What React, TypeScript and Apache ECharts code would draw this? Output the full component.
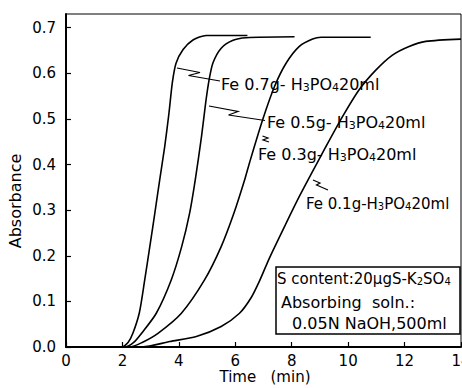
import React, { useEffect, useRef } from "react";
import * as echarts from "echarts";

// Time (min) / Absorbance pairs
const fe07: [number, number][] = [
  [0, 0], [1.95, 0], [2.2, 0.01], [2.37, 0.03], [2.6, 0.075], [2.79, 0.147], [2.97, 0.22],
  [3.15, 0.294], [3.32, 0.366], [3.5, 0.44], [3.65, 0.513], [3.77, 0.58], [3.9, 0.622],
  [4.15, 0.652], [4.5, 0.673], [4.97, 0.683], [6.43, 0.683],
];
const fe05: [number, number][] = [
  [0, 0], [2.1, 0], [2.4, 0.01], [2.68, 0.03], [3.2, 0.074], [3.73, 0.147], [4.1, 0.22],
  [4.38, 0.293], [4.58, 0.366], [4.8, 0.46], [4.95, 0.535], [5.07, 0.585], [5.21, 0.623],
  [5.5, 0.655], [5.9, 0.672], [6.39, 0.678], [8.1, 0.68],
];
const fe03: [number, number][] = [
  [0, 0], [2.25, 0], [2.7, 0.01], [3.26, 0.03], [4.09, 0.074], [4.91, 0.147], [5.5, 0.22],
  [5.95, 0.293], [6.33, 0.366], [6.5, 0.403], [6.97, 0.498], [7.39, 0.571], [7.8, 0.622],
  [8.27, 0.659], [8.74, 0.675], [9.04, 0.679], [10.8, 0.679],
];
const fe01: [number, number][] = [
  [0, 0], [2.7, 0], [3.68, 0.012], [4.62, 0.023], [5.5, 0.045], [6.15, 0.074], [6.56, 0.108],
  [6.86, 0.145], [7.21, 0.195], [7.8, 0.271], [8.27, 0.33], [8.74, 0.385], [9.21, 0.439],
  [9.8, 0.505], [10.39, 0.564], [10.98, 0.607], [11.57, 0.64], [12.16, 0.659], [12.75, 0.67],
  [14, 0.675],
];

const seriesData = [fe07, fe05, fe03, fe01];
const curveLabels = ["Fe 0.7g- H", "Fe 0.5g- H", "Fe 0.3g- H", "Fe 0.1g-H"];

const xMin = 0, xMax = 14, xStep = 2;
const yMin = 0, yMax = 0.73, yStep = 0.1;

const FONT = "DejaVu Sans";

function richLabel(head: string) {
  return `{n|${head}}{s|3}{n|PO}{s|4}{n|20ml}`;
}

function makeRich(size: number) {
  return {
    n: { fontSize: size, fontFamily: FONT, color: "#000", verticalAlign: "bottom" as const, lineHeight: size + 3 },
    s: { fontSize: size - 5, fontFamily: FONT, color: "#000", verticalAlign: "bottom" as const, lineHeight: size - 1 },
  };
}

export default function App() {
  const ref = useRef<HTMLDivElement>(null);
  useEffect(() => {
    if (!ref.current) return;
    const chart = echarts.init(ref.current, null, { renderer: "svg" });
    const labelPos: [number, number][] = [[221, 83], [267, 121], [258, 153], [306, 202]];
    const labelSize = [16, 16, 16, 15];
    const leaders: number[][][] = [
      [[177, 68], [200, 72.5], [188.5, 75.5], [220, 81]],
      [[209, 106], [238, 111.5], [228.5, 115], [265, 120.5]],
      [[262.5, 136], [268, 138], [263, 140], [269, 142]],
      [[313, 180], [320, 183], [316.5, 185], [328, 190]],
    ];
    const graphics: any[] = [];
    curveLabels.forEach((h, i) => {
      graphics.push({
        type: "text",
        x: labelPos[i][0],
        y: labelPos[i][1],
        style: { text: richLabel(h), rich: makeRich(labelSize[i]), verticalAlign: "middle", align: "left" },
      });
      graphics.push({
        type: "polyline",
        shape: { points: leaders[i] },
        style: { stroke: "#000", lineWidth: 1.2, fill: "none" },
      });
    });
    graphics.push({
      type: "rect",
      shape: { x: 276, y: 267, width: 184, height: 67 },
      style: { stroke: "#000", lineWidth: 1.5, fill: "#fff" },
    });
    graphics.push({
      type: "text", x: 277, y: 277,
      style: {
        text: "{n|S content:20μgS-K}{s|2}{n|SO}{s|4}",
        rich: makeRich(15),
        verticalAlign: "middle", align: "left",
      },
    });
    graphics.push({
      type: "text", x: 281, y: 302,
      style: { text: "Absorbing  soln.:", font: `16px ${FONT}`, fill: "#000", verticalAlign: "middle", align: "left" },
    });
    graphics.push({
      type: "text", x: 292, y: 323,
      style: { text: "0.05N NaOH,500ml", font: `16px ${FONT}`, fill: "#000", verticalAlign: "middle", align: "left" },
    });
    graphics.push({
      type: "text", x: 15, y: 201, rotation: Math.PI / 2,
      style: { text: "Absorbance", font: `16px ${FONT}`, fill: "#000", verticalAlign: "middle", align: "center" },
    });
    graphics.push({
      type: "text", x: 265, y: 377,
      style: { text: "Time   (min)", font: `15px ${FONT}`, fill: "#000", verticalAlign: "middle", align: "center" },
    });

    chart.setOption({
      animation: false,
      grid: {
        left: 66, right: 1, top: 14, bottom: 41, show: true, borderColor: "#000", borderWidth: 1,
        outerBoundsMode: "none", containLabel: false,
      },
      xAxis: {
        type: "value", min: xMin, max: xMax, interval: xStep,
        axisLine: { lineStyle: { color: "#000", width: 2 } },
        axisTick: { inside: true, length: 5, lineStyle: { color: "#000", width: 1.2 } },
        axisLabel: { fontSize: 15, fontFamily: FONT, color: "#000", margin: 6, hideOverlap: false },
        splitLine: { show: false },
      },
      yAxis: {
        type: "value", min: yMin, max: yMax, interval: yStep,
        axisLine: { show: true, lineStyle: { color: "#000", width: 2 } },
        axisTick: { show: true, inside: true, length: 5, lineStyle: { color: "#000", width: 1.2 } },
        axisLabel: {
          fontSize: 15, fontFamily: FONT, color: "#000", margin: 10, showMaxLabel: false,
          formatter: (v: number) => (v <= 0.7001 ? v.toFixed(1) : ""),
        },
        splitLine: { show: false },
      },
      series: seriesData.map((d) => ({
        type: "line",
        data: d,
        showSymbol: false,
        smooth: 0.25,
        lineStyle: { color: "#000", width: 1.6 },
        z: 2,
      })),
      graphic: graphics,
    });
    return () => chart.dispose();
  }, []);
  return <div ref={ref} style={{ position: "fixed", left: 0, top: 0, width: 462, height: 388, background: "#fff" }} />;
}
